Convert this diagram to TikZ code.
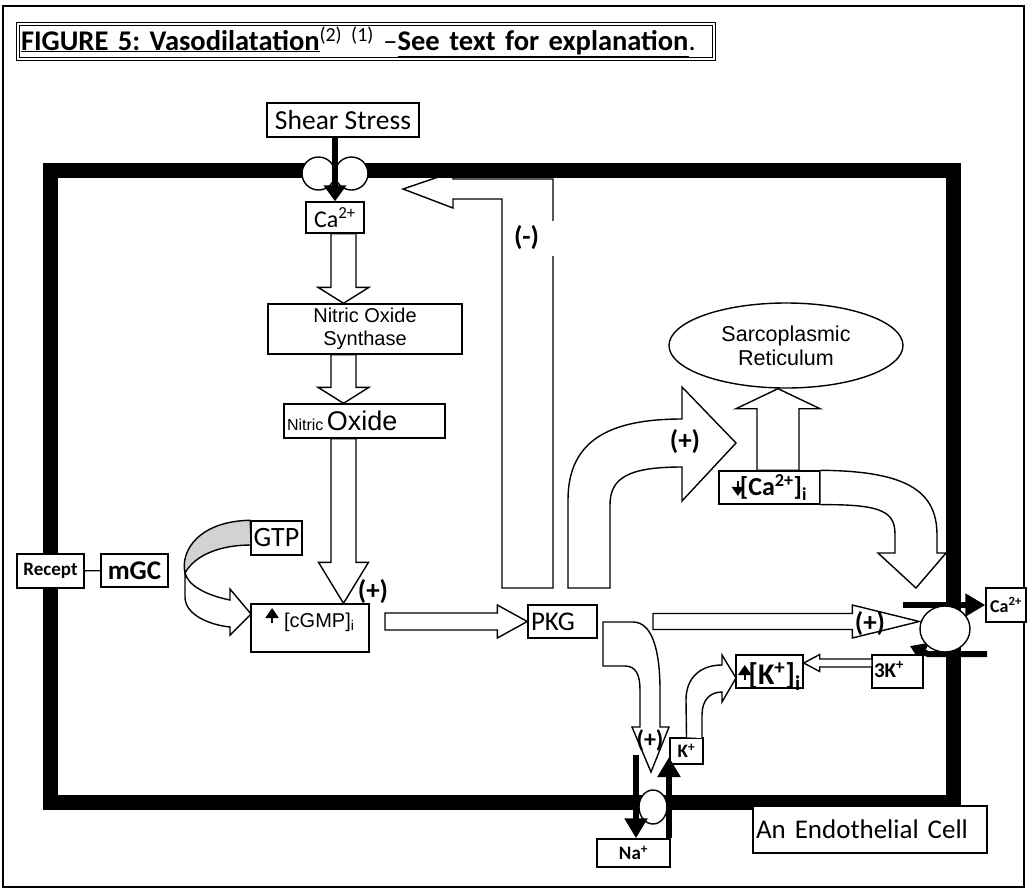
\documentclass[tikz,border=0pt]{standalone}
\usepackage{fontspec}
\setmainfont{Carlito}
\newfontfamily\arial{Liberation Sans}
\usetikzlibrary{arrows.meta,calc,positioning,shapes.geometric}
\frenchspacing

\newcommand\fsz[1]{\fontsize{#1}{#1}\selectfont}
% small black arrows inside the texts
\newcommand\felnyil{\tikz[baseline=0pt]\draw[line width=2.4pt,-{Triangle[length=10pt,width=13pt]}] (0pt,4pt) -- (0pt,19pt);}
\newcommand\lenyil{\tikz[baseline=0pt]\draw[line width=2.4pt,-{Triangle[length=9pt,width=12pt]}] (0pt,15pt) -- (0pt,0pt);}

\tikzset{
  tbox/.style={draw,fill=white,line width=1.4pt,inner sep=0pt,align=center},
  blk/.style={draw,fill=white,line width=1.4pt,line join=miter},
  ion/.style={line width=6pt,-{Triangle[length=20pt,width=22pt]}},
  chan/.style={draw,fill=white,line width=1.4pt,inner sep=0pt},
  lbl/.style={font=\bfseries\fsz{27},inner sep=0pt},
}

% hollow block arrows: from, to, half shaft, half head, head length
\newcommand\vblock[5]{%
  \draw[blk] let \p1=(#1), \p2=(#2) in
    ({\x1-#3pt},\y1) -- ({\x1-#3pt},{\y2+(#5pt)}) -- ({\x1-#4pt},{\y2+(#5pt)}) -- (\x1,\y2)
    -- ({\x1+#4pt},{\y2+(#5pt)}) -- ({\x1+#3pt},{\y2+(#5pt)}) -- ({\x1+#3pt},\y1) -- cycle;}
\newcommand\hblock[5]{%
  \draw[blk] let \p1=(#1), \p2=(#2) in
    (\x1,{\y1+#3pt}) -- ({\x2-(#5pt)},{\y1+#3pt}) -- ({\x2-(#5pt)},{\y1+#4pt}) -- (\x2,\y1)
    -- ({\x2-(#5pt)},{\y1-#4pt}) -- ({\x2-(#5pt)},{\y1-#3pt}) -- (\x1,{\y1-#3pt}) -- cycle;}

\begin{document}
\begin{tikzpicture}[x=1pt,y=-1pt]
  \useasboundingbox (0,0) rectangle (1029,892);
  \draw[line width=1.2pt] (3,6) rectangle (1024,887);
  \node[draw,double,double distance=1.5pt,line width=0.8pt,text width=690pt,align=left,inner xsep=3pt,
        inner ysep=0pt,minimum height=35pt,font=\fsz{28.5}] (cim) at (366,41.5)
    {\textbf{\underline{FIGURE 5: Vasodilatation}}\textsuperscript{(2) (1)} --\textbf{\underline{See text for explanation}}.};

  % arrows lying under the membrane
  \draw[blk] (502,588) -- (502,199) -- (453,199) -- (453,208) -- (403,189) -- (453,172) -- (453,179)
    -- (553,179) -- (553,588) -- cycle;

  % the cell
  \draw[line width=15pt] (50.5,170.5) rectangle (953.5,802);

  % pump on the right
  \coordinate (cabe) at (903,605);
  \coordinate (kki) at (987,654);
  \coordinate (kbe) at (910,646);
  \node[tbox,minimum width=40pt,minimum height=34pt,font=\bfseries\fsz{18}] (cao) at (1006,605) {Ca\textsuperscript{2+}};
  \draw[ion] (cabe) -- (cao.west);
  \draw[line width=6pt,-{Triangle[length=16pt,width=20pt]}] (kki) -- (928,654) -- (kbe);
  \node[chan,ellipse,minimum width=50pt,minimum height=46pt] (pump) at (945,629) {};

  \node[tbox,minimum width=152pt,minimum height=34pt,font=\fsz{27.5}] (ss) at (343,120) {Shear Stress};
  \node[tbox,minimum width=58pt,minimum height=31pt,font=\fsz{24}] (cat) at (335,217.5) {Ca\textsuperscript{2+}};
  \node[tbox,minimum width=194pt,minimum height=50pt,font={\arial\fontsize{20}{23}\selectfont}] (nos) at (365,329) {Nitric Oxide\\Synthase};
  \node[tbox,minimum height=34pt,text width=155pt,align=left,inner xsep=3pt,font=\arial] (no) at (364.5,421)
    {\fsz{16}Nitric \fsz{27}Oxide};
  \node[tbox,minimum width=118pt,text height=23pt,text depth=25pt,font={\arial\fsz{20}}] (cgmp) at (310,628)
    {\felnyil\ [cGMP]\textsubscript{i}};
  \node[tbox,minimum width=51pt,minimum height=34pt,font=\fsz{28}] (gtp) at (276.5,538) {GTP};
  \node[tbox,minimum width=67pt,minimum height=34pt,font=\bfseries\fsz{19}] (rec) at (50.5,571) {Recept};
  \node[tbox,minimum width=67pt,minimum height=33pt,font=\bfseries\fsz{27}] (mgc) at (134.5,570.5) {mGC};
  \draw[line width=1.4pt] (rec) -- (mgc);
  \node[tbox,minimum height=33pt,text width=63pt,align=left,inner xsep=3pt,font=\fsz{27}] (pkg) at (562.5,621.5) {PKG};
  \node[draw,ellipse,line width=1.4pt,inner sep=0pt,minimum width=234pt,minimum height=85pt,align=center,
        font={\arial\fontsize{21.5}{24}\selectfont}] (sr) at (786,345.5) {Sarcoplasmic\\Reticulum};
  \node[tbox,minimum width=101pt,minimum height=33pt,font=\bfseries\fsz{26}] (cai) at (769.5,487.5)
    {\lenyil\kern-4pt[Ca\textsuperscript{2+}]\textsubscript{i}};
  \node[tbox,text width=47pt,align=left,inner xsep=2pt,text height=22pt,text depth=11pt,font=\bfseries\fsz{21}] (k3) at (897.5,671.5)
    {3K\textsuperscript{+}};
  \node[tbox,minimum width=67pt,text height=29pt,text depth=4pt,font=\bfseries\fsz{30}] (ki) at (769.5,671.5)
    {\felnyil\kern-3pt[K\textsuperscript{+}]\textsubscript{i}};
  \node[tbox,minimum width=33pt,minimum height=26pt,font=\bfseries\fsz{19}] (kp) at (686.5,751) {K\textsuperscript{+}};
  \node[tbox,minimum width=73pt,minimum height=28pt,font=\bfseries\fsz{19}] (na) at (633.5,853) {Na\textsuperscript{+}};
  \node[tbox,minimum height=47pt,text width=228pt,align=left,inner xsep=3pt,font=\fsz{27}] (sejt) at (870,829.5)
    {An Endothelial Cell};

  % shear stress channel
  \node[chan,circle,minimum size=33pt] (ch1) at (318.5,173.5) {};
  \node[chan,circle,minimum size=33pt] (ch2) at (351.5,173.5) {};
  \draw[line width=6pt,-{Triangle[length=16pt,width=22pt]}] (ss.south -| cat.north) -- (cat.north);

  % Na/K pump
  \coordinate (nafent) at (636,755);
  \coordinate (kfent) at (669,757);
  \node[chan,ellipse,minimum width=28pt,minimum height=34pt] (nak) at (653,807) {};
  \draw[ion] (nafent) -- (nafent |- na.north);
  \draw[ion] (kfent |- na.north) -- (kfent);

  % straight block arrows
  \coordinate (oszlop) at (343.5,0);
  \coordinate (sroszlop) at (778,0);
  \vblock{cat.south -| oszlop}{nos.north -| oszlop}{12.5}{25.5}{16}
  \vblock{nos.south -| oszlop}{no.north -| oszlop}{12.5}{25.5}{16}
  \vblock{no.south -| oszlop}{cgmp.north -| oszlop}{12.5}{25}{41}
  \vblock{cai.north -| sroszlop}{sr.south -| sroszlop}{21}{42}{-20}
  \coordinate (gki) at (385,621.5);
  \hblock{gki}{pkg.west}{8.5}{16.5}{30}
  \coordinate (pki) at (653,621.5);
  \hblock{pki}{pump.west |- pki}{8}{16.5}{67}
  \coordinate (kb) at (872,663);
  \hblock{kb}{ki.east |- kb}{4}{8.5}{-16}

  % bent block arrows
  \draw[blk] (568,588) -- (568,500) .. controls (568,440) and (610,419) .. (682,419) -- (682,387) -- (736,443)
    -- (682,501) -- (682,467) .. controls (628,467) and (610,478) .. (610,505) -- (610,588) -- cycle;
  \draw[blk] (cai.north east) .. controls (905,471) and (937,490) .. (937,535) -- (937,553) -- (946,553)
    -- (916,588) -- (878,553) -- (895,553) -- (895,535) .. controls (895,513) and (885,504) .. (cai.south east);
  \draw[blk] (603,622) -- (633,622) .. controls (652,622) and (660,650) .. (660,690) -- (660,727) -- (669,727)
    -- (651,772) -- (632,727) -- (640,727) -- (640,690) .. controls (640,675) and (636,666) .. (625,666)
    -- (603,666) -- cycle;
  \draw[blk] (kp.north) -- (686,700) .. controls (686,678) and (700,665) .. (722,665) -- (722,655) -- (736,678)
    -- (722,702) -- (722,692) .. controls (710,692) and (702,700) .. (702,715) -- (702,738);
  % GTP to cGMP
  \draw[blk,fill=gray!35] (gtp.north west) .. controls (200,521) and (180,550) .. (185,573)
    .. controls (195,555) and (220,545) .. (251,545) -- cycle;
  \draw[blk] (185,573) -- (185,597) .. controls (185,615) and (210,625) .. (230,627) -- (230,635) -- (251,614)
    -- (230,589) -- (230,600) .. controls (205,595) and (188,585) .. (185,573);

  % labels
  \node[lbl] (p1) at (373,592) {(+)};
  \node[lbl,fill=white,minimum height=35pt,text width=40pt,align=left,inner xsep=2pt] (minus) at (534,238) {(-)};
  \node[lbl] (p2) at (685,442) {(+)};
  \node[lbl] (p3) at (870,624) {(+)};
  \node[lbl,font=\bfseries\fsz{24}] (p4) at (650,740) {(+)};
\end{tikzpicture}
\end{document}
